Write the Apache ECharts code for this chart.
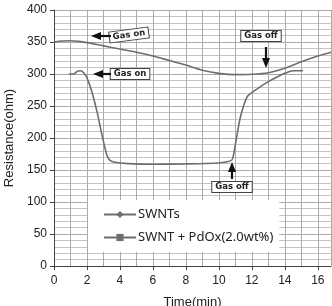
<!DOCTYPE html>
<html>
<head>
<meta charset="utf-8">
<script src="https://cdn.jsdelivr.net/npm/echarts@6/dist/echarts.min.js"></script>
<style>body{margin:0;background:#fff}#main{width:332px;height:306px}</style>
</head>
<body>
<div id="main"></div>
<script>
// SWNTs (upper curve)
var swntX = [0, 0.5, 1, 1.5, 2, 3, 4, 5, 6, 7, 8, 9, 10, 11, 12, 13, 14, 15, 16, 16.8];
var swntY = [350, 351.5, 352, 351, 349, 344, 339, 334, 328, 321, 314, 306, 301, 299, 299.5, 302, 309, 319, 328, 334];
// SWNT + PdOx(2.0wt%) (lower curve)
var pdoxX = [0.9, 1.2, 1.4, 1.6, 1.8, 2.0, 2.3, 2.6, 2.9, 3.2, 3.4, 3.7, 4.5, 6, 8, 10, 10.5, 10.8, 11.0, 11.3, 11.7, 12, 12.5, 13, 13.5, 14, 14.5, 15.1];
var pdoxY = [300, 300, 304, 305, 302, 294, 272, 242, 206, 174, 165, 162, 160, 159, 159.5, 161, 163, 166, 190, 232, 264, 271, 280, 288, 295, 301, 305, 305];

var lineColor = '#6e6e6e';
function pairs(xs, ys) { return xs.map(function (x, i) { return [x, ys[i]]; }); }

var chart = echarts.init(document.getElementById('main'));
// boxed label, (x, y) = centre
function box(x, y, text, rot) {
    return {
        type: 'text', x: x, y: y, rotation: rot || 0, z: 100,
        style: {
            text: text, align: 'center', verticalAlign: 'middle',
            fontFamily: 'DejaVu Sans', fontSize: 8.5, fontWeight: 'bold', fill: '#222',
            backgroundColor: '#fff', borderColor: '#444', borderWidth: 1, padding: [1, 3, 0, 3]
        }
    };
}
function arrowLeft(x1, x2, y) {
    return {
        type: 'group', z: 100, children: [
            { type: 'line', z: 100, shape: { x1: x1, y1: y, x2: x2 + 6, y2: y }, style: { stroke: '#111', lineWidth: 2.2 } },
            { type: 'polygon', z: 100, shape: { points: [[x2, y], [x2 + 10, y - 4], [x2 + 10, y + 4]] }, style: { fill: '#111' } }
        ]
    };
}
function arrowV(x, y1, y2) {
    var d = y2 > y1 ? -1 : 1;
    return {
        type: 'group', z: 100, children: [
            { type: 'line', z: 100, shape: { x1: x, y1: y1, x2: x, y2: y2 + d * 6 }, style: { stroke: '#111', lineWidth: 2.2 } },
            { type: 'polygon', z: 100, shape: { points: [[x, y2], [x - 4, y2 + d * 10], [x + 4, y2 + d * 10]] }, style: { fill: '#111' } }
        ]
    };
}

chart.setOption({
    animation: false,
    grid: { left: 54, right: 1, top: 10, bottom: 40, outerBoundsMode: 'none', containLabel: false },
    xAxis: {
        type: 'value', min: 0, max: 16.8, interval: 2,
        name: 'Time(min)', nameLocation: 'middle', nameGap: 30,
        nameTextStyle: { fontFamily: 'Liberation Sans', fontSize: 13, color: '#222' },
        axisLine: { lineStyle: { color: '#444' } },
        axisTick: { show: true, length: 4, lineStyle: { color: '#444' } },
        axisLabel: { fontFamily: 'Liberation Sans', fontSize: 12, color: '#222', showMaxLabel: false, margin: 9 },
        splitLine: { show: true, lineStyle: { color: '#aaa', width: 1 } },
        minorTick: { show: false, splitNumber: 2 },
        minorSplitLine: { show: true, lineStyle: { color: '#aaa', width: 1 } }
    },
    yAxis: {
        type: 'value', min: 0, max: 400, interval: 50,
        name: 'Resistance(ohm)', nameLocation: 'middle', nameGap: 36,
        nameTextStyle: { fontFamily: 'Liberation Sans', fontSize: 13, color: '#222' },
        axisLine: { show: true, lineStyle: { color: '#444' } },
        axisTick: { show: true, length: 4, lineStyle: { color: '#444' } },
        axisLabel: { fontFamily: 'Liberation Sans', fontSize: 12, color: '#222', margin: 7 },
        splitLine: { show: true, lineStyle: { color: '#aaa', width: 1 } },
        minorTick: { show: false, splitNumber: 5 },
        minorSplitLine: { show: true, lineStyle: { color: '#c4c4c4', width: 1 } }
    },
    legend: {
        orient: 'vertical', left: 88, top: 200, itemGap: 10,
        backgroundColor: '#fff', padding: [8, 6, 8, 15],
        itemWidth: 32, itemHeight: 9,
        textStyle: { fontFamily: 'Noto Sans', fontSize: 13, color: '#222', padding: [0, 0, 0, -3] },
        data: ['SWNTs', 'SWNT + PdOx(2.0wt%)']
    },
    series: [
        {
            name: 'SWNTs', type: 'line', data: pairs(swntX, swntY), smooth: 0.3,
            symbol: 'diamond', symbolSize: 8, showSymbol: false,
            lineStyle: { color: lineColor, width: 1.6 }, itemStyle: { color: lineColor }
        },
        {
            name: 'SWNT + PdOx(2.0wt%)', type: 'line', data: pairs(pdoxX, pdoxY), smooth: 0.3,
            symbol: 'rect', symbolSize: 10, showSymbol: false,
            lineStyle: { color: lineColor, width: 1.6 }, itemStyle: { color: lineColor }
        }
    ],
    graphic: [
        box(129, 35, 'Gas on', 0.13),
        arrowLeft(111, 91, 36),
        box(130, 74, 'Gas on'),
        arrowLeft(111, 93, 74),
        box(261, 36, 'Gas off'),
        arrowV(266, 47, 68),
        box(232, 187, 'Gas off'),
        arrowV(232, 179, 162)
    ]
});
</script>
</body>
</html>
